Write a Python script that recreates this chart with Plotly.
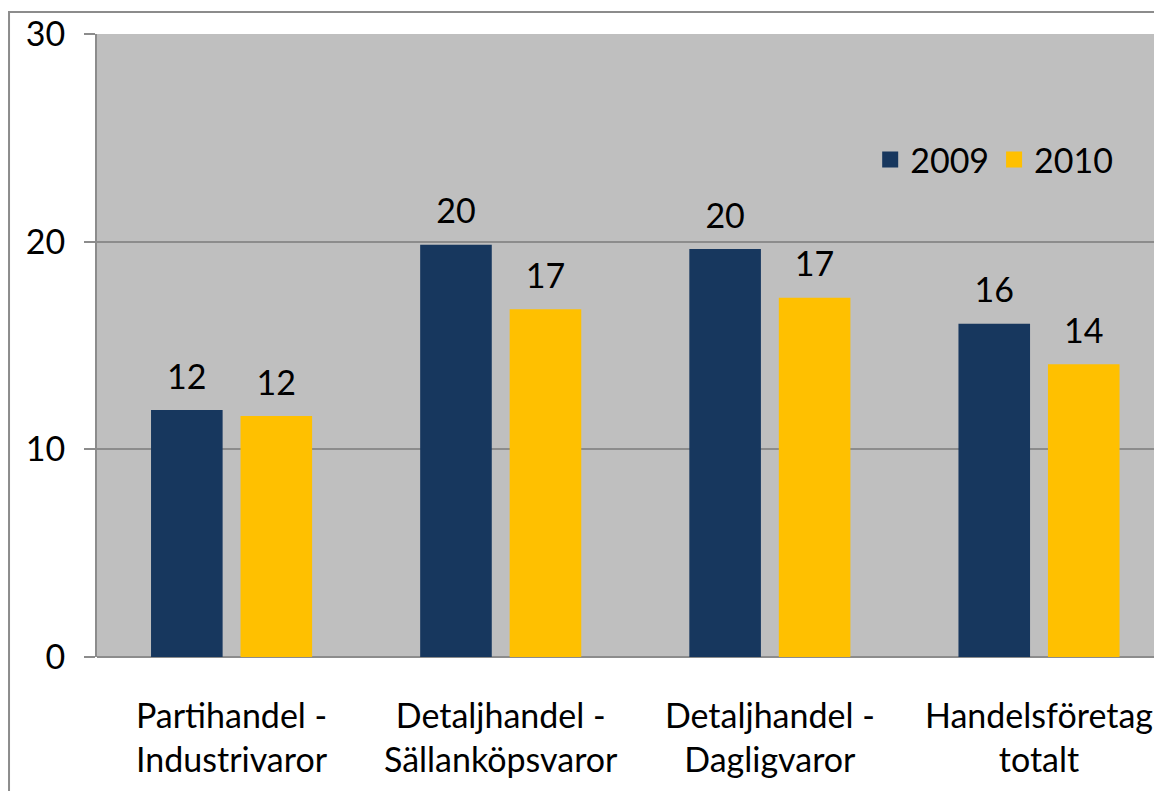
import plotly.graph_objects as go

categories = ["Partihandel -<br>Industrivaror", "Detaljhandel -<br>Sällanköpsvaror",
              "Detaljhandel -<br>Dagligvaror", "Handelsföretag<br>totalt"]
years = ["2009", "2010"]
values_2009 = [11.9, 19.85, 19.65, 16.05]
values_2010 = [11.6, 16.75, 17.3, 14.1]
y_ticks = [0, 10, 20, 30]

FONT = "Lato, Open Sans, sans-serif"
GRAY = "#8c8c8c"
COLORS = {"2009": "#17375E", "2010": "#FFC000"}
SIZE = 34

fig = go.Figure()
for year, vals in zip(years, [values_2009, values_2010]):
    # bars
    fig.add_trace(go.Bar(name=year, x=categories, y=vals, marker_color=COLORS[year],
                         marker_line_width=0, offsetgroup=year, showlegend=False,
                         hoverinfo="skip"))
    # value labels, grouped like the bars
    fig.add_trace(go.Scatter(x=categories, y=vals, mode="markers+text", offsetgroup=year,
                             text=[f"{v:.0f}" for v in vals], textposition="top center",
                             textfont=dict(size=SIZE, color="black"),
                             marker=dict(size=19, opacity=0), showlegend=False,
                             cliponaxis=False, hoverinfo="skip"))
    # legend entry
    fig.add_trace(go.Scatter(x=[None], y=[None], mode="markers", name=year, offsetgroup=year,
                             marker=dict(symbol="square", size=20, color=COLORS[year])))

fig.update_layout(
    width=1154, height=783,
    margin=dict(l=89, r=0, t=26, b=134),
    paper_bgcolor="white", plot_bgcolor="#BFBFBF",
    font=dict(family=FONT, size=SIZE, color="black"),
    barmode="group", bargap=0.335, bargroupgap=0.2,
    scattermode="group", scattergap=0.335,
    showlegend=True,
    legend=dict(orientation="h", x=0.726, y=0.798, xanchor="left", yanchor="middle",
                bgcolor="rgba(0,0,0,0)", font=dict(size=SIZE), itemwidth=30,
                traceorder="normal"),
    shapes=[dict(type="rect", xref="paper", yref="paper", x0=-0.0826, x1=1.2,
                 y0=-0.4, y1=1.0353, line=dict(color=GRAY, width=2), layer="below")],
)
fig.update_xaxes(range=[-0.5, 3.457], showgrid=False, showline=False, ticks="",
                 tickfont=dict(size=SIZE), ticklabelstandoff=36)
fig.update_yaxes(range=[0, 30], tickvals=y_ticks, showgrid=True, gridcolor=GRAY, gridwidth=1.5,
                 zeroline=True, zerolinecolor=GRAY, zerolinewidth=2,
                 showline=True, linecolor=GRAY, linewidth=2,
                 ticks="outside", ticklen=11, tickcolor=GRAY, tickwidth=2,
                 ticklabelstandoff=12, tickfont=dict(size=SIZE))

fig.write_html("out.html")
